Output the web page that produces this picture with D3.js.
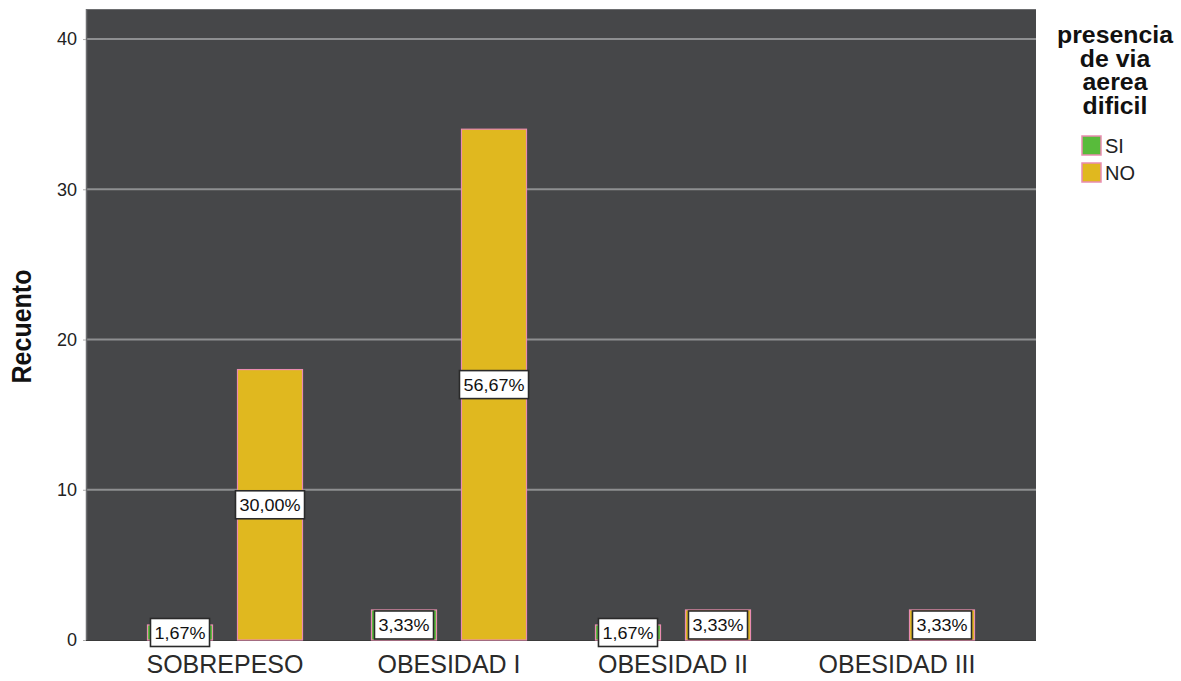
<!DOCTYPE html>
<html>
<head>
<meta charset="utf-8">
<script src="https://cdn.jsdelivr.net/npm/d3@7"></script>
<style>
  html, body { margin: 0; padding: 0; background: #ffffff; }
  svg { display: block; }
  text { font-family: "Liberation Sans", Arial, sans-serif; }
</style>
</head>
<body>
<svg id="chart" width="1181" height="681"></svg>
<script>
// Obesity category vs. difficult airway (counts, n = 60)
const categories = ["SOBREPESO", "OBESIDAD I", "OBESIDAD II", "OBESIDAD III"];
const seriesNames = ["SI", "NO"];
const siCounts = [1, 2, 1, 0];
const noCounts = [18, 34, 2, 2];
const siLabels = ["1,67%", "3,33%", "1,67%", ""];
const noLabels = ["30,00%", "56,67%", "3,33%", "3,33%"];
const yTicks = [0, 10, 20, 30, 40];

const colors = { SI: "#58bb3b", NO: "#e0b81f" };

const svg = d3.select("#chart");
const plot = { left: 86, right: 1036, top: 9, bottom: 640 };

const x = d3.scaleBand()
  .domain(categories)
  .range([113, 1009])
  .paddingInner(0)
  .paddingOuter(0);

const xSeries = d3.scaleBand()
  .domain(seriesNames)
  .range([0, x.bandwidth()])
  .paddingInner(25 / 90)
  .paddingOuter(0.3833);

const y = d3.scaleLinear()
  .domain([0, 42])
  .range([plot.bottom, plot.top]);

// plot background
svg.append("rect")
  .attr("x", plot.left).attr("y", plot.top)
  .attr("width", plot.right - plot.left).attr("height", plot.bottom - plot.top)
  .attr("fill", "#464749");

// gridlines
svg.append("g")
  .selectAll("line")
  .data(yTicks.filter(d => d > 0))
  .join("line")
  .attr("x1", plot.left).attr("x2", plot.right)
  .attr("y1", d => y(d)).attr("y2", d => y(d))
  .attr("stroke", "#8e8f91").attr("stroke-width", 2);

// plot frame edges
svg.append("line")
  .attr("x1", plot.left).attr("x2", plot.right)
  .attr("y1", plot.top + 0.5).attr("y2", plot.top + 0.5)
  .attr("stroke", "#6d6e70").attr("stroke-width", 1);
svg.append("line")
  .attr("x1", plot.left + 0.5).attr("x2", plot.left + 0.5)
  .attr("y1", plot.top).attr("y2", plot.bottom)
  .attr("stroke", "#6d6e70").attr("stroke-width", 1.5);

// y axis
const yAxis = d3.axisLeft(y).tickValues(yTicks).tickSize(3).tickPadding(6);
const gy = svg.append("g")
  .attr("transform", `translate(${plot.left},0)`)
  .call(yAxis);
gy.select(".domain").remove();
gy.selectAll(".tick line").attr("stroke", "#aaaaaa");
gy.selectAll(".tick text")
  .attr("font-size", 18)
  .attr("fill", "#222222")
  .attr("font-family", "'Liberation Sans', Arial, sans-serif");

svg.append("text")
  .attr("transform", `translate(31,${(plot.top + plot.bottom) / 2 + 2}) rotate(-90) scale(1,1.12)`)
  .attr("text-anchor", "middle")
  .attr("font-size", 25)
  .attr("font-weight", "bold")
  .attr("fill", "#111111")
  .text("Recuento");

// x axis labels
const xAxis = d3.axisBottom(x).tickSize(0).tickPadding(15);
const gx = svg.append("g")
  .attr("transform", `translate(0,${plot.bottom})`)
  .call(xAxis);
gx.select(".domain").attr("stroke", "#3a3a3a").attr("stroke-width", 1)
  .attr("d", `M${plot.left},0.5H${plot.right}`);
gx.selectAll(".tick text")
  .attr("font-size", 25)
  .attr("fill", "#2a2a2a")
  .attr("font-family", "'Liberation Sans', Arial, sans-serif");

// bars
const rows = categories.map((c, i) => ({
  cat: c,
  items: [
    { key: "SI", value: siCounts[i], label: siLabels[i] },
    { key: "NO", value: noCounts[i], label: noLabels[i] }
  ]
}));

const groups = svg.append("g")
  .selectAll("g")
  .data(rows)
  .join("g")
  .attr("transform", d => `translate(${x(d.cat)},0)`);

groups.selectAll("rect")
  .data(d => d.items.filter(it => it.value > 0))
  .join("rect")
  .attr("x", d => xSeries(d.key))
  .attr("y", d => y(d.value))
  .attr("width", xSeries.bandwidth())
  .attr("height", d => y(0) - y(d.value))
  .attr("fill", d => colors[d.key])
  .attr("stroke", "#e98cb0")
  .attr("stroke-width", 1.2);

// value labels (percent of total) in boxed tags at bar mid-height
const labelG = groups.selectAll("g.lab")
  .data(d => d.items.filter(it => it.value > 0 && it.label))
  .join("g")
  .attr("class", "lab")
  .attr("transform", d => `translate(${xSeries(d.key) + xSeries.bandwidth() / 2},${y(d.value / 2)})`);

labelG.append("text")
  .attr("text-anchor", "middle")
  .attr("dy", "0.36em")
  .attr("font-size", 17)
  .attr("transform", "scale(1.06,1)")
  .attr("fill", "#111111")
  .text(d => d.label);

labelG.each(function () {
  const g = d3.select(this);
  const bb = g.select("text").node().getBBox();
  const w = bb.width * 1.06 + 8;
  g.insert("rect", "text")
    .attr("x", -w / 2)
    .attr("y", -14)
    .attr("width", w)
    .attr("height", 28)
    .attr("fill", "#ffffff")
    .attr("stroke", "#2a2a2a")
    .attr("stroke-width", 1.6);
});

// legend
const legend = svg.append("g").attr("transform", "translate(1115,0)");
const legendTitle = ["presencia", "de via", "aerea", "dificil"];
legend.selectAll("text.title")
  .data(legendTitle)
  .join("text")
  .attr("class", "title")
  .attr("text-anchor", "middle")
  .attr("transform", (d, i) => `translate(0,${43 + i * 23.7}) scale(1.08,1)`)
  .attr("font-size", 23)
  .attr("font-weight", "bold")
  .attr("fill", "#111111")
  .text(d => d);

const items = legend.selectAll("g.item")
  .data(seriesNames)
  .join("g")
  .attr("class", "item")
  .attr("transform", (d, i) => `translate(-33,${136 + i * 27})`);

items.append("rect")
  .attr("width", 19).attr("height", 19)
  .attr("fill", d => colors[d])
  .attr("stroke", "#e98cb0")
  .attr("stroke-width", 1.5);

items.append("text")
  .attr("x", 23).attr("y", 17)
  .attr("font-size", 20)
  .attr("fill", "#222222")
  .text(d => d);
</script>
</body>
</html>
